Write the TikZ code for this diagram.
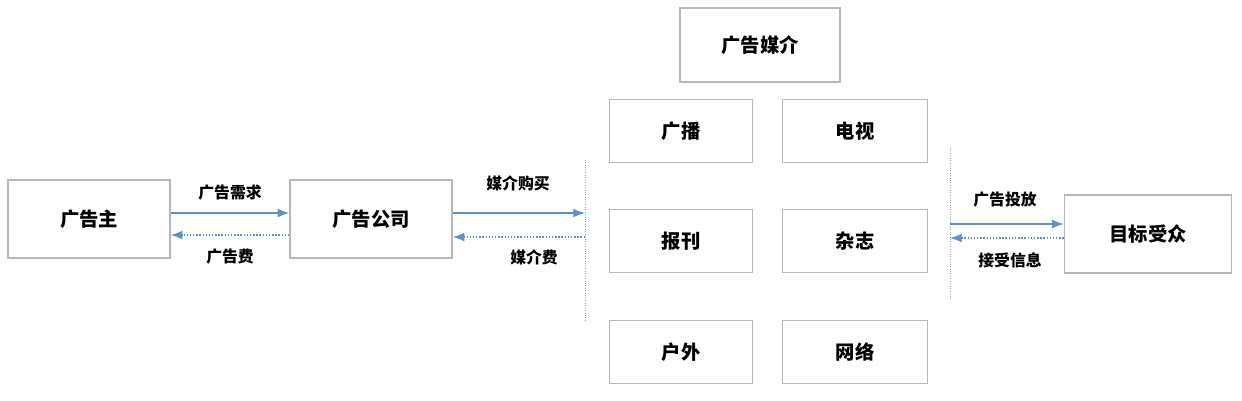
\documentclass[tikz,border=0pt]{standalone}
\usepackage{fontspec}
\setmainfont{Noto Sans CJK SC}
\usetikzlibrary{arrows.meta,positioning}
\definecolor{linkblue}{rgb}{0.36, 0.56, 0.80}
\definecolor{boxgray}{rgb}{0.72, 0.72, 0.72}
\tikzset{
	>=Latex,
	box/.style = {
			draw=boxgray, thick, align=center,
			font=\bfseries\fontsize{11}{13}\selectfont,
		},
	link/.style = {draw=linkblue, thick, ->},
	backlink/.style = {draw=linkblue, thick, densely dotted, ->},
	lbl/.style = {font=\bfseries\fontsize{9}{11}\selectfont},
	divider/.style = {draw=linkblue!80, densely dotted},
}

\begin{document}
\begin{tikzpicture}[x=0.02cm,y=-0.02cm]
		\useasboundingbox (0,0) rectangle (1242,400);
		\node[box, minimum width=3.24cm, minimum height=1.56cm] at (89,219) (zhu) {广告主};
		\node[box, minimum width=3.24cm, minimum height=1.56cm] at (371,219) (gongsi) {广告公司};
		\node[box, minimum width=3.2cm, minimum height=1.48cm] at (760,45) (meijie) {广告媒介};
		\node[box, minimum width=2.86cm, minimum height=1.26cm] at (681,131) (guangbo) {广播};
		\node[box, minimum width=2.9cm, minimum height=1.26cm] at (855,131) (dianshi) {电视};
		\node[box, minimum width=2.86cm, minimum height=1.26cm] at (681,241) (baokan) {报刊};
		\node[box, minimum width=2.9cm, minimum height=1.26cm] at (855,241) (zazhi) {杂志};
		\node[box, minimum width=2.86cm, minimum height=1.26cm] at (681,352) (huwai) {户外};
		\node[box, minimum width=2.9cm, minimum height=1.26cm] at (855,352) (wangluo) {网络};
		\node[box, minimum width=3.34cm, minimum height=1.56cm] at (1148,234) (shouzhong) {目标受众};
		% dividers
		\coordinate (ltop) at (585,160); \coordinate (lbot) at (585,320);
		\coordinate (rtop) at (950,148); \coordinate (rbot) at (950,300);
		\draw[divider] (ltop) -- (lbot);
		\draw[divider] (rtop) -- (rbot);
		\coordinate (lin) at (585,213); \coordinate (lout) at (585,237);
		\coordinate (rin) at (950,224); \coordinate (rout) at (950,238);
		% connectors
		\draw[link] (zhu.east |- 0,213) -- (gongsi.west |- 0,213);
		\draw[backlink] (gongsi.west |- 0,235) -- (zhu.east |- 0,235);
		\draw[link] (gongsi.east |- 0,213) -- (lin);
		\draw[backlink] (lout) -- (gongsi.east |- 0,237);
		\draw[link] (rin) -- (shouzhong.west |- rin);
		\draw[backlink] (shouzhong.west |- rout) -- (rout);
		\node[lbl] at (230,193) (l1) {广告需求};
		\node[lbl] at (230,257) (l2) {广告费};
		\node[lbl] at (518,183) (l3) {媒介购买};
		\node[lbl] at (534,257) (l4) {媒介费};
		\node[lbl] at (1005,200) (l5) {广告投放};
		\node[lbl] at (1010,260) (l6) {接受信息};
	\end{tikzpicture}
\end{document}
